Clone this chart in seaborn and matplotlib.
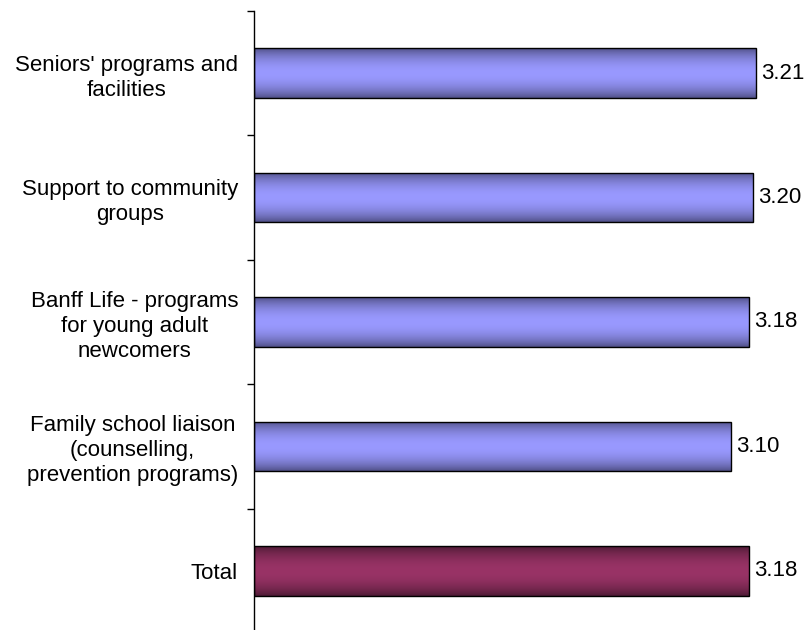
import numpy as np
import pandas as pd
import matplotlib
matplotlib.use("Agg")
import matplotlib.pyplot as plt
import seaborn as sns
from matplotlib.colors import to_rgb

categories = [
    "Seniors' programs and\nfacilities",
    "Support to community\ngroups",
    "Banff Life - programs\nfor young adult\nnewcomers",
    "Family school liaison\n(counselling,\nprevention programs)",
    "Total",
]
scores = [3.21, 3.20, 3.18, 3.10, 3.18]
value_labels = ["3.21", "3.20", "3.18", "3.10", "3.18"]

# light centre / dark edge colours for the cylinder-style shading
light_colors = ["#9999FF", "#9999FF", "#9999FF", "#9999FF", "#993366"]
dark_colors = ["#4C4C80", "#4C4C80", "#4C4C80", "#4C4C80", "#4A1932"]

sns.set_theme(style="white")
plt.rcParams["font.family"] = ["Liberation Sans", "DejaVu Sans"]

df = pd.DataFrame({"item": categories, "score": scores})

fig = plt.figure(figsize=(8.09, 6.30), dpi=100)
ax = fig.add_axes([254 / 809, -3 / 630, 1 - 254 / 809, 622 / 630])

sns.barplot(data=df, x="score", y="item", orient="h", ax=ax, width=0.4,
            color="#9999FF", edgecolor="black", linewidth=1.0, zorder=3)

xlim = (1.0, 1.0 + 555 / 227)
ylim = (4.5, -0.5)

# vertical shading profile: dark rims, light middle
t = np.linspace(-1, 1, 200)
w = np.cos(t * np.pi / 2) ** 0.75
for patch, lc, dc in zip(ax.patches, light_colors, dark_colors):
    x0, y0 = patch.get_x(), patch.get_y()
    pw, ph = patch.get_width(), patch.get_height()
    lc_rgb, dc_rgb = np.array(to_rgb(lc)), np.array(to_rgb(dc))
    grad = dc_rgb[None, :] + (lc_rgb - dc_rgb)[None, :] * w[:, None]
    grad = grad[:, None, :]
    im = ax.imshow(grad, extent=[xlim[0], x0 + pw, y0 + ph, y0], aspect="auto",
                   interpolation="bilinear", zorder=2)
    im.set_clip_path(patch)
    patch.set_facecolor("none")
    patch.set_x(xlim[0])
    patch.set_width(x0 + pw - xlim[0])

ax.set_xlim(*xlim)
ax.set_ylim(*ylim)

for i, (v, lab) in enumerate(zip(scores, value_labels)):
    ax.text(v + 5 / 227, i, lab, va="center", ha="left", fontsize=16, color="black")

ax.set_xlabel("")
ax.set_ylabel("")
ax.xaxis.set_visible(False)
for s in ["top", "right", "bottom"]:
    ax.spines[s].set_visible(False)
ax.spines["left"].set_color("black")
ax.spines["left"].set_linewidth(1.0)

ax.set_yticks(range(len(categories)))
ax.set_yticklabels(categories, fontsize=16, color="black", linespacing=1.25)
ax.set_yticks(np.arange(-0.5, len(categories), 1.0), minor=True)
ax.tick_params(axis="y", which="major", length=0, pad=11.5)
ax.tick_params(axis="y", which="minor", length=5, width=1.0, color="black",
               direction="out", left=True)
for lbl in ax.get_yticklabels():
    lbl.set_multialignment("center")

fig.savefig("out.png", dpi=100)
